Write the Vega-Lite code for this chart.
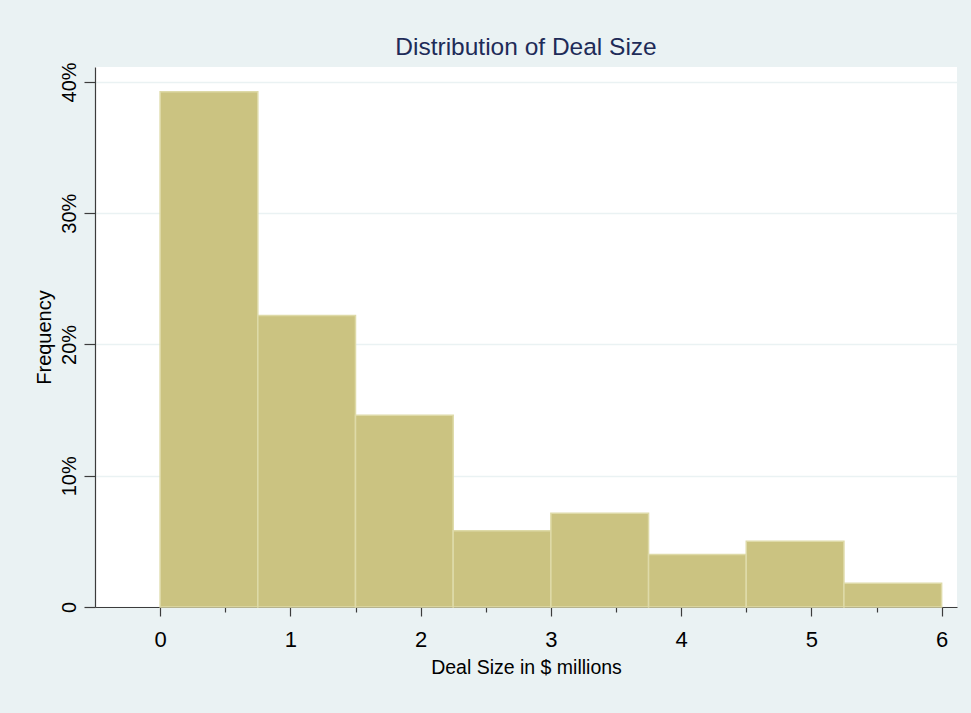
{
  "$schema": "https://vega.github.io/schema/vega-lite/v6.json",
  "autosize": {"type": "none"},
  "width": 862,
  "height": 540,
  "padding": {"left": 95, "top": 67, "right": 14, "bottom": 106},
  "background": "#EAF2F3",
  "view": {"fill": "#FFFFFF", "stroke": null},
  "title": {
    "text": "Distribution of Deal Size",
    "font": "Liberation Sans",
    "fontSize": 24.5,
    "fontWeight": "normal",
    "color": "#1E2B58",
    "anchor": "middle",
    "frame": "group",
    "baseline": "alphabetic",
    "offset": -18
  },
  "data": {
    "values": [
      {"bin_start": 0.0, "bin_end": 0.75, "pct": 0.3925},
      {"bin_start": 0.75, "bin_end": 1.5, "pct": 0.222},
      {"bin_start": 1.5, "bin_end": 2.25, "pct": 0.146},
      {"bin_start": 2.25, "bin_end": 3.0, "pct": 0.058},
      {"bin_start": 3.0, "bin_end": 3.75, "pct": 0.0715},
      {"bin_start": 3.75, "bin_end": 4.5, "pct": 0.040},
      {"bin_start": 4.5, "bin_end": 5.25, "pct": 0.050},
      {"bin_start": 5.25, "bin_end": 6.0, "pct": 0.018}
    ]
  },
  "mark": {"type": "bar", "fill": "#CBC381", "stroke": "#DEDAA8", "strokeWidth": 1.5},
  "encoding": {
    "x": {
      "field": "bin_start",
      "type": "quantitative",
      "scale": {"domain": [-0.5, 6.118], "nice": false, "zero": false},
      "axis": {
        "title": "Deal Size in $ millions",
        "values": [0, 0.5, 1, 1.5, 2, 2.5, 3, 3.5, 4, 4.5, 5, 5.5, 6],
        "labelExpr": "datum.value % 1 === 0 ? format(datum.value, 'd') : ''",
        "grid": false,
        "domainColor": "#3C3C3C",
        "domainWidth": 1.2,
        "tickColor": "#3C3C3C",
        "tickWidth": 1.2,
        "tickSize": {"condition": {"test": "datum.value % 1 !== 0", "value": 5}, "value": 9},
        "labelFont": "Liberation Sans",
        "labelFontSize": 22,
        "labelColor": "#000000",
        "labelBaseline": "alphabetic",
        "labelPadding": 30,
        "labelFlush": false,
        "titleFont": "Liberation Sans",
        "titleFontSize": 19.5,
        "titleFontWeight": "normal",
        "titleColor": "#000000",
        "titleBaseline": "alphabetic",
        "titlePadding": 23
      }
    },
    "x2": {"field": "bin_end"},
    "y": {
      "field": "pct",
      "type": "quantitative",
      "scale": {"domain": [0, 0.4114], "nice": false, "zero": true},
      "axis": {
        "title": "Frequency",
        "values": [0, 0.1, 0.2, 0.3, 0.4],
        "labelExpr": "datum.value === 0 ? '0' : format(datum.value, '.0%')",
        "grid": true,
        "gridColor": "#EAF2F3",
        "gridWidth": 1.6,
        "domainColor": "#3C3C3C",
        "domainWidth": 1.2,
        "tickColor": "#3C3C3C",
        "tickWidth": 1.2,
        "tickSize": 11,
        "labelFont": "Liberation Sans",
        "labelFontSize": 20,
        "labelColor": "#000000",
        "labelAngle": -90,
        "labelAlign": "center",
        "labelBaseline": "alphabetic",
        "labelPadding": 9,
        "labelFlush": false,
        "labelOverlap": false,
        "titleFont": "Liberation Sans",
        "titleFontSize": 20,
        "titleFontWeight": "normal",
        "titleColor": "#000000",
        "titleBaseline": "alphabetic",
        "titlePadding": 9
      }
    },
    "y2": {"datum": 0}
  }
}
